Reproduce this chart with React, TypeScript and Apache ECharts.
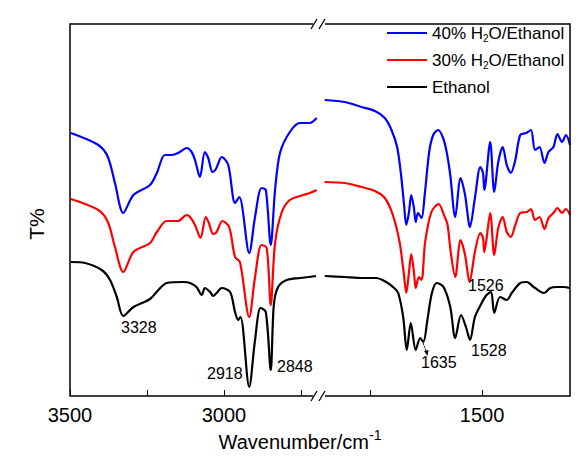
import React, { useEffect, useRef } from "react";
import * as echarts from "echarts";

const seriesNames = ["40% H2O/Ethanol", "30% H2O/Ethanol", "Ethanol"];
const seriesColors = ["#0000FF", "#FF0000", "#000000"];

// [wavenumber (cm-1), transmittance (arbitrary, offset) ]
const blueLeft = [[3497,263],[3408,251],[3377,239],[3354,213],[3327,183],[3294,201],[3240,211],[3218,223],[3192,241],[3170,241],[3149,243],[3121,248],[3105,244],[3094,236],[3078,219],[3062,244],[3051,238],[3037,224],[3026,227],[3007,239],[2986,231],[2964,193],[2950,199],[2918,143],[2899,179],[2878,208],[2864,206],[2848,151],[2834,206],[2818,243],[2786,264],[2753,273],[2721,273],[2699,278]];
const redLeft = [[3497,197],[3408,186],[3377,174],[3354,149],[3327,124],[3294,144],[3240,153],[3218,164],[3186,175],[3149,175],[3121,181],[3110,179],[3094,171],[3076,158],[3059,179],[3049,173],[3035,162],[3024,164],[3005,175],[2983,169],[2964,139],[2948,134],[2918,79],[2899,119],[2878,151],[2861,148],[2848,91],[2834,153],[2813,183],[2786,196],[2742,201],[2721,203],[2699,206]];
const blackLeft = [[3497,134],[3451,133],[3397,126],[3370,116],[3348,99],[3327,80],[3294,89],[3240,97],[3213,106],[3186,113],[3132,114],[3110,113],[3089,109],[3072,101],[3062,108],[3045,104],[3035,100],[3024,103],[3007,108],[2980,104],[2964,84],[2954,76],[2946,79],[2918,9],[2899,56],[2881,88],[2864,84],[2848,26],[2838,91],[2824,109],[2796,116],[2753,118],[2701,120]];

const blueRight = [[1851,296],[1806,294],[1769,289],[1739,285],[1717,278],[1702,266],[1689,248],[1680,218],[1674,191],[1669,171],[1663,184],[1658,201],[1652,188],[1648,174],[1643,183],[1635,178],[1628,201],[1618,244],[1609,261],[1598,266],[1587,258],[1579,244],[1571,221],[1560,179],[1548,218],[1538,201],[1527,169],[1516,198],[1504,229],[1498,223],[1495,206],[1482,254],[1473,204],[1464,234],[1454,249],[1445,231],[1436,223],[1426,236],[1415,261],[1402,263],[1391,266],[1382,246],[1372,249],[1361,233],[1352,244],[1341,249],[1332,262],[1322,254],[1313,261],[1304,251]];
const redRight = [[1851,214],[1806,213],[1769,209],[1739,205],[1717,198],[1699,181],[1684,154],[1675,124],[1669,103],[1663,124],[1658,142],[1652,124],[1648,108],[1641,119],[1635,116],[1627,154],[1613,184],[1597,192],[1585,181],[1577,171],[1570,144],[1560,119],[1548,156],[1538,141],[1528,114],[1516,144],[1504,163],[1498,158],[1495,144],[1482,183],[1473,141],[1464,168],[1454,179],[1445,164],[1436,159],[1426,171],[1415,183],[1400,184],[1391,187],[1382,176],[1372,179],[1361,167],[1352,178],[1341,183],[1332,188],[1322,183],[1313,187],[1304,181]];
const blackRight = [[1851,120],[1806,119],[1769,118],[1736,118],[1714,114],[1696,108],[1687,103],[1676,79],[1668,46],[1659,73],[1648,46],[1638,58],[1631,54],[1622,76],[1612,103],[1601,113],[1586,109],[1571,89],[1560,58],[1547,81],[1536,69],[1527,56],[1516,79],[1501,93],[1490,101],[1480,104],[1473,83],[1460,99],[1445,96],[1434,103],[1415,113],[1400,114],[1385,109],[1362,103],[1348,108],[1333,109],[1318,109],[1305,108]];

const leftTicks = [3500, 3250, 3000, 2750];
const leftLabels = [3500, 3000];
const rightTicks = [1750, 1500];
const rightLabels = [1500];

const peakLabels = ["3328", "2918", "2848", "1635", "1526", "1528"];

const FONT = '"Liberation Sans", Arial, sans-serif';

export default function App() {
  const ref = useRef<HTMLDivElement>(null);
  useEffect(() => {
    if (!ref.current) return;
    const chart = echarts.init(ref.current, undefined, { renderer: "svg" });
    const leftData = [blueLeft, redLeft, blackLeft];
    const rightData = [blueRight, redRight, blackRight];
    const series: any[] = [];
    seriesNames.forEach((name, i) => {
      [leftData[i], rightData[i]].forEach((d, k) => {
        series.push({
          type: "line",
          name,
          xAxisIndex: k,
          yAxisIndex: k,
          data: d,
          symbol: "none",
          showSymbol: false,
          smooth: 0.3,
          lineStyle: { color: seriesColors[i], width: 2.2 },
          itemStyle: { color: seriesColors[i] },
          z: 3 - i,
        });
      });
    });

    const axisCommon = {
      type: "value",
      inverse: true,
      axisLine: { show: false },
      splitLine: { show: false },
    };
    const labelCommon = {
      color: "#000",
      fontSize: 20,
      fontFamily: FONT,
      margin: 9,
      formatter: (v: number) => String(v),
    };

    const txt = (text: string, x: number, y: number) => ({
      type: "text",
      x,
      y,
      z: 50,
      style: {
        text,
        fill: "#000",
        fontSize: 16,
        fontFamily: FONT,
        align: "left",
        verticalAlign: "middle",
      },
    });

    const option: any = {
      animation: false,
      backgroundColor: "#fff",
      grid: [
        { left: 70, top: 24, width: 250, height: 372 },
        { left: 322, top: 24, width: 248, height: 372 },
      ],
      xAxis: [
        {
          ...axisCommon,
          gridIndex: 0,
          min: 2688,
          max: 3500,
          axisTick: { show: true, inside: true, length: 6, customValues: leftTicks, lineStyle: { color: "#000", width: 1 } },
          axisLabel: { ...labelCommon, customValues: leftLabels },
        },
        {
          ...axisCommon,
          gridIndex: 1,
          min: 1304,
          max: 1857,
          axisTick: { show: true, inside: true, length: 6, customValues: rightTicks, lineStyle: { color: "#000", width: 1 } },
          axisLabel: { ...labelCommon, customValues: rightLabels },
        },
      ],
      yAxis: [0, 1].map((g) => ({
        type: "value",
        gridIndex: g,
        min: 0,
        max: 372,
        show: false,
      })),
      legend: {
        data: seriesNames,
        orient: "vertical",
        left: 387,
        top: 23,
        padding: 0,
        icon: "rect",
        itemWidth: 40,
        itemHeight: 2,
        itemGap: 7,
        itemTextGap: 3,
        formatter: (name: string) => name.replace("H2O", "H{sub|2}O"),
        textStyle: {
          color: "#000",
          fontSize: 17,
          fontFamily: FONT,
          lineHeight: 20,
          rich: {
            sub: { fontSize: 10, fontFamily: FONT, color: "#000", verticalAlign: "bottom" },
          },
        },
      },
      graphic: [
        {
          type: "rect",
          z: 40,
          shape: { x: 70, y: 24, width: 500, height: 372 },
          style: { fill: "none", stroke: "#000", lineWidth: 1.5 },
        },
        { type: "rect", z: 41, shape: { x: 313, y: 20, width: 12, height: 8 }, style: { fill: "#fff" } },
        { type: "rect", z: 41, shape: { x: 313, y: 392, width: 12, height: 8 }, style: { fill: "#fff" } },
        { type: "line", z: 42, shape: { x1: 311, y1: 29, x2: 317, y2: 19 }, style: { stroke: "#000", lineWidth: 1.3 } },
        { type: "line", z: 42, shape: { x1: 319, y1: 29, x2: 325, y2: 19 }, style: { stroke: "#000", lineWidth: 1.3 } },
        { type: "line", z: 42, shape: { x1: 311, y1: 401, x2: 317, y2: 391 }, style: { stroke: "#000", lineWidth: 1.3 } },
        { type: "line", z: 42, shape: { x1: 319, y1: 401, x2: 325, y2: 391 }, style: { stroke: "#000", lineWidth: 1.3 } },
        txt(peakLabels[0], 121, 327),
        txt(peakLabels[1], 207, 373),
        txt(peakLabels[2], 277, 366),
        txt(peakLabels[3], 421, 362),
        txt(peakLabels[4], 468, 285),
        txt(peakLabels[5], 471, 350),
        { type: "line", z: 42, shape: { x1: 423, y1: 343, x2: 426.5, y2: 352 }, style: { stroke: "#000", lineWidth: 1, lineDash: [2, 1] } },
        { type: "polygon", z: 42, shape: { points: [[427.5, 356], [424, 351], [428.5, 350]] }, style: { fill: "#000" } },
        {
          type: "text",
          z: 50,
          x: 36,
          y: 224,
          rotation: Math.PI / 2,
          style: {
            text: "T%",
            fill: "#000",
            fontSize: 21,
            fontFamily: FONT,
            align: "center",
            verticalAlign: "middle",
          },
        },
        {
          type: "text",
          z: 50,
          x: 300,
          y: 440,
          style: {
            text: "{a|Wavenumber/cm}{s|-1}",
            fill: "#000",
            align: "center",
            verticalAlign: "middle",
            rich: {
              a: { fontSize: 20, fontFamily: FONT, color: "#000", lineHeight: 24, verticalAlign: "bottom" },
              s: { fontSize: 14, fontFamily: FONT, color: "#000", verticalAlign: "top" },
            },
          },
        },
      ],
      series,
    };
    chart.setOption(option);
    return () => chart.dispose();
  }, []);
  return (
    <div
      ref={ref}
      style={{ position: "fixed", left: 0, top: 0, width: 578, height: 456, background: "#fff" }}
    />
  );
}
